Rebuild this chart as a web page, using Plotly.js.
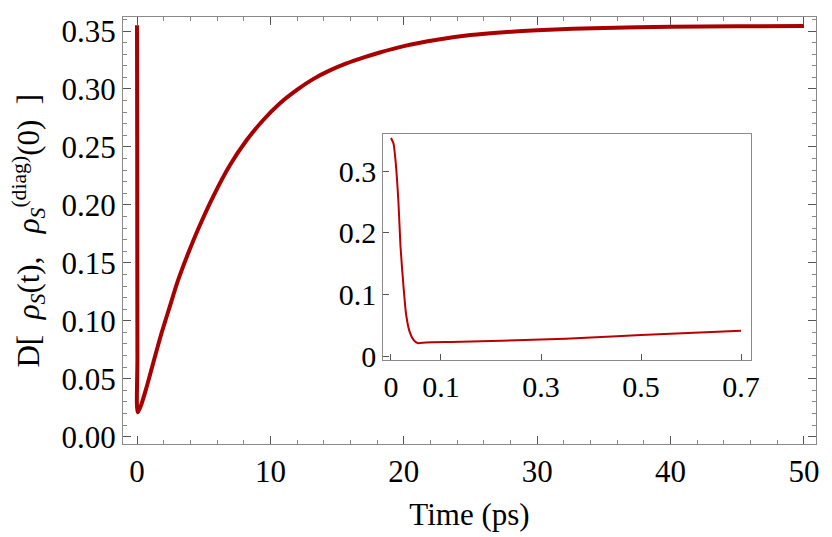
<!DOCTYPE html>
<html>
  <head>
    <meta charset="utf-8" />
    <script src="https://cdn.plot.ly/plotly-3.0.1.min.js"></script>
    <style>
      body { margin: 0; background: #fff; }
    </style>
  </head>
  <body>
    <div id="chart" style="width:832px;height:537px;"></div>
    <script>
      // main curve (time in ps)
      var mainTime = [0, 0.015, 0.03, 0.053, 0.3, 0.7, 1.2, 1.83, 2.45, 3.08, 3.83, 4.58, 5.7, 6.95, 8.2, 9.45,
                      10.7, 11.96, 13.2, 14.46, 15.7, 16.95, 18.2, 20, 22.5, 25, 27.5, 30, 35, 40, 45, 50];
      var mainValue = [0.355, 0.248, 0.069, 0.021, 0.027, 0.042, 0.063, 0.089, 0.112, 0.135, 0.158, 0.179, 0.207, 0.234, 0.2555, 0.273,
                       0.2875, 0.299, 0.3085, 0.316, 0.322, 0.327, 0.3315, 0.337, 0.3425, 0.3465, 0.349, 0.3507, 0.3527, 0.3537, 0.3541, 0.3543];

      // inset: first 0.7 ps
      var insetTime = [0, 0.005, 0.009, 0.015, 0.019, 0.025, 0.030, 0.037, 0.045, 0.053, 0.07, 0.14, 0.3, 0.4, 0.5, 0.7];
      var insetValue = [0.354, 0.345, 0.318, 0.248, 0.178, 0.113, 0.069, 0.040, 0.026, 0.021, 0.022, 0.023, 0.0266, 0.030, 0.034, 0.041];

      var mainXTicks = [0, 10, 20, 30, 40, 50];
      var mainYTicks = [0, 0.05, 0.10, 0.15, 0.20, 0.25, 0.30, 0.35];
      var insetXTicks = [0, 0.1, 0.3, 0.5, 0.7];
      var insetXLabels = ['0', '0.1', '0.3', '0.5', '0.7'];
      var insetYTicks = [0, 0.1, 0.2, 0.3];
      var insetYLabels = ['0', '0.1', '0.2', '0.3'];

      var serif = 'Liberation Serif, Times New Roman, serif';
      var frame = '#8a8a8a';
      var tick = '#555';
      var sp = '\u00a0';

      var traces = [
        {
          x: mainTime, y: mainValue,
          type: 'scatter', mode: 'lines',
          line: {color: '#a80000', width: 4, shape: 'spline', smoothing: 0.8},
          xaxis: 'x', yaxis: 'y', hoverinfo: 'none'
        },
        {
          x: insetTime, y: insetValue,
          type: 'scatter', mode: 'lines',
          line: {color: '#bb0000', width: 2, shape: 'spline', smoothing: 0.6},
          xaxis: 'x2', yaxis: 'y2', hoverinfo: 'none'
        }
      ];

      var layout = {
        width: 832, height: 537,
        margin: {l: 123, r: 16, t: 17, b: 93},
        paper_bgcolor: '#fff', plot_bgcolor: '#fff',
        showlegend: false,
        font: {family: serif, size: 31, color: '#000'},
        xaxis: {
          range: [-1.05, 50.9],
          showgrid: false, zeroline: false,
          showline: true, linecolor: frame, linewidth: 1, mirror: 'allticks',
          ticks: 'inside', ticklen: 8, tickcolor: tick, tickwidth: 1,
          tickvals: mainXTicks,
          minor: {ticks: 'inside', ticklen: 4, tickcolor: '#888', dtick: 2, tick0: 0, showgrid: false},
          title: {text: 'Time (ps)', font: {family: serif, size: 31}, standoff: 15}
        },
        yaxis: {
          range: [-0.0063, 0.3621],
          showgrid: false, zeroline: false,
          showline: true, linecolor: frame, linewidth: 1, mirror: 'allticks',
          ticks: 'inside', ticklen: 8, tickcolor: tick, tickwidth: 1,
          tickvals: mainYTicks, tickformat: '.2f',
          minor: {ticks: 'inside', ticklen: 4, tickcolor: '#888', dtick: 0.01, tick0: 0, showgrid: false}
        },
        xaxis2: {
          domain: [0.3756, 0.9058], anchor: 'y2',
          range: [-0.0154, 0.7194],
          showgrid: false, zeroline: false,
          showline: true, linecolor: frame, linewidth: 1, mirror: true,
          ticks: 'inside', ticklen: 6, tickcolor: tick,
          tickvals: insetXTicks, ticktext: insetXLabels,
          tickfont: {family: serif, size: 30}
        },
        yaxis2: {
          domain: [0.1967, 0.726], anchor: 'x2',
          range: [-0.0065, 0.3604],
          showgrid: false, zeroline: false,
          showline: true, linecolor: frame, linewidth: 1, mirror: true,
          ticks: 'inside', ticklen: 6, tickcolor: tick,
          tickvals: insetYTicks, ticktext: insetYLabels,
          tickfont: {family: serif, size: 30}
        },
        annotations: [{
          // y axis title, placed by hand to sit as far left as the original
          text: 'D[' + sp + sp + '<i>ρ</i><sub><i>S</i></sub>(t),' + sp + sp + sp +
                '<i>ρ</i><sub><i>S</i></sub><sup>(diag)</sup>(0)' + sp + sp + ']',
          xref: 'paper', yref: 'paper', x: -0.137, y: 0.5,
          xanchor: 'center', yanchor: 'middle', textangle: -90,
          showarrow: false, font: {family: serif, size: 31}
        }]
      };

      Plotly.newPlot('chart', traces, layout, {displayModeBar: false, staticPlot: true});
    </script>
  </body>
</html>
